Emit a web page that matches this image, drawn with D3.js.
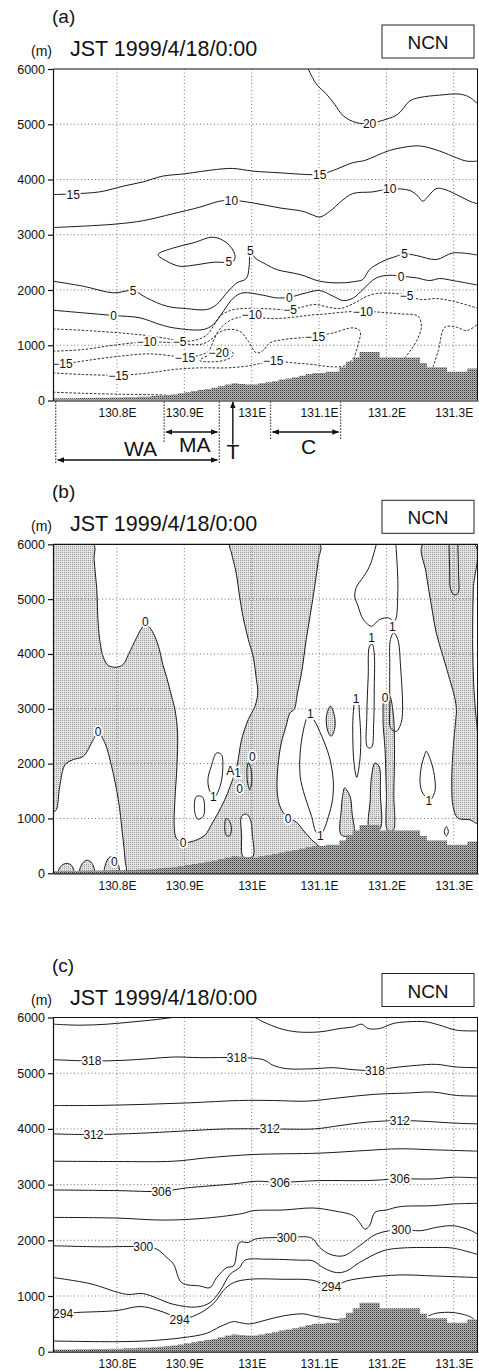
<!DOCTYPE html>
<html>
<head>
<meta charset="utf-8">
<script src="https://cdn.jsdelivr.net/npm/d3@7"></script>
<style>
body { margin: 0; background: #fff; }
svg text { font-family: "Liberation Sans", Arial, Helvetica, sans-serif; fill: #111; }
</style>
</head>
<body>
<script>
// axis values
var lonTicks = [130.8, 130.9, 131.0, 131.1, 131.2, 131.3];
var lonTickLabels = ["130.8E", "130.9E", "131E", "131.1E", "131.2E", "131.3E"];
var zTicks = [0, 1000, 2000, 3000, 4000, 5000, 6000];
var zGrid = [1000, 2000, 3000, 4000, 5000];
var panelNames = ["(a)", "(b)", "(c)"];
var timeLabel = "JST 1999/4/18/0:00";
var runName = "NCN";

// terrain height (m) per model column, [lon of column start, height]
var terrain = [[130.70,40],[130.71,40],[130.72,40],[130.73,40],[130.74,45],[130.75,45],[130.76,50],[130.77,50],
  [130.78,50],[130.79,55],[130.80,55],[130.81,60],[130.82,60],[130.83,70],[130.84,70],[130.85,80],
  [130.86,90],[130.87,100],[130.88,110],[130.89,130],[130.90,150],[130.91,170],[130.92,190],[130.93,210],
  [130.94,230],[130.95,260],[130.96,290],[130.97,310],[130.98,300],[130.99,290],[131.00,290],[131.01,310],
  [131.02,330],[131.03,350],[131.04,380],[131.05,400],[131.06,420],[131.07,450],[131.08,480],[131.09,500],
  [131.10,500],[131.11,520],[131.12,520],[131.13,600],[131.14,700],[131.15,780],[131.16,880],[131.17,880],
  [131.18,880],[131.19,780],[131.20,780],[131.21,780],[131.22,780],[131.23,780],[131.24,780],[131.25,680],
  [131.26,600],[131.27,600],[131.28,600],[131.29,520],[131.30,520],[131.31,520],[131.32,580],[131.33,580],[131.34,580]];

// ---- panel (a) contours ----
var a20 = [[131.084,6000],[131.096,5727],[131.111,5545],[131.123,5364],[131.136,5152],[131.155,5030],[131.175,5018],
  [131.200,5091],[131.217,5182],[131.235,5424],[131.250,5485],[131.279,5527],[131.309,5545],[131.324,5485],[131.336,5364]];
var a20Lab = [[131.175,5018]];
var a15 = [[130.705,3727],[130.774,3776],[130.809,3879],[130.839,3958],[130.868,4061],[130.900,4103],[130.948,4182],
  [130.972,4200],[131.002,4152],[131.042,4121],[131.081,4091],[131.101,4091],[131.121,4164],[131.150,4303],[131.168,4345],
  [131.205,4527],[131.240,4606],[131.254,4600],[131.279,4515],[131.304,4394],[131.319,4333],[131.336,4333]];
var a15Lab = [[130.735,3727],[131.101,4091]];
var a10 = [[130.705,3130],[130.764,3165],[130.800,3195],[130.839,3255],[130.883,3380],[130.923,3500],[130.952,3606],
  [130.970,3625],[131.002,3576],[131.042,3485],[131.076,3424],[131.090,3360],[131.101,3320],[131.116,3424],[131.133,3606],
  [131.150,3745],[131.180,3776],[131.205,3830],[131.235,3800],[131.247,3697],[131.254,3606],[131.262,3697],[131.274,3836],
  [131.287,3818],[131.309,3697],[131.324,3606],[131.336,3557]];
var a10Lab = [[130.970,3625],[131.205,3830]];
var a5Loop = [[130.861,2641],[130.884,2762],[130.913,2852],[130.943,2955],[130.963,2852],[130.975,2641],[130.973,2521],
  [130.943,2502],[130.913,2448],[130.893,2430],[130.874,2521]];
var a5LoopLab = [[130.966,2515]];
var a5 = [[130.705,2159],[130.750,2068],[130.795,1948],[130.824,1990],[130.844,1857],[130.874,1706],[130.903,1664],
  [130.933,1646],[130.948,1737],[130.963,1948],[130.978,2129],[130.992,2207],[130.996,2400],[130.997,2641],[130.998,2714],
  [131.005,2581],[131.022,2460],[131.037,2370],[131.072,2279],[131.101,2159],[131.131,2129],[131.156,2159],[131.165,2189],
  [131.175,2370],[131.195,2521],[131.215,2611],[131.227,2653],[131.245,2623],[131.274,2551],[131.299,2671],[131.337,2629]];
var a5Lab = [[130.824,1990],[130.998,2714],[131.227,2653]];
var a0 = [[130.705,1634],[130.750,1586],[130.795,1538],[130.834,1496],[130.864,1375],[130.884,1315],[130.928,1284],
  [130.943,1375],[130.958,1616],[130.973,1857],[130.987,1948],[131.017,1905],[131.037,1857],[131.056,1869],[131.081,1948],
  [131.101,1990],[131.121,1887],[131.136,1809],[131.151,1857],[131.165,2008],[131.185,2219],[131.205,2267],[131.222,2249],
  [131.245,2219],[131.264,2171],[131.279,2207],[131.299,2171],[131.337,2086]];
var a0Lab = [[130.795,1538],[131.056,1869],[131.222,2249]];
var aM5 = [[130.705,1296],[130.755,1266],[130.804,1224],[130.844,1176],[130.874,1122],[130.893,1073],[130.918,1097],
  [130.934,1194],[130.943,1345],[130.953,1526],[130.968,1628],[130.987,1664],[131.017,1664],[131.057,1646],[131.074,1688],
  [131.094,1737],[131.114,1688],[131.131,1664],[131.145,1720],[131.158,1800],[131.170,1880],[131.185,1935],[131.210,1940],
  [131.230,1905],[131.251,1827],[131.274,1845],[131.299,1797],[131.337,1664]];
var aM5Lab = [[130.893,1073],[131.057,1646],[131.230,1905]];
var aM10 = [[130.705,892],[130.750,923],[130.795,1001],[130.844,1061],[130.884,1043],[130.923,1013],[130.936,1073],
  [130.945,1164],[130.955,1327],[130.970,1463],[130.987,1520],[131.000,1556],[131.017,1495],[131.037,1483],[131.062,1508],
  [131.086,1544],[131.111,1568],[131.141,1604],[131.165,1616],[131.190,1598],[131.220,1568],[131.247,1526],[131.252,1345],
  [131.247,1134],[131.237,923],[131.227,772]];
var aM10Lab = [[130.844,1061],[131.000,1556],[131.165,1616]];
var aM10b = [[131.269,600],[131.277,900],[131.287,1327],[131.304,1327],[131.319,1266],[131.337,1390]];
var aM15a = [[130.705,663],[130.719,663],[130.755,724],[130.804,802],[130.849,844],[130.884,802],[130.901,772],
  [130.923,820],[130.936,892],[130.942,1043],[130.949,1206],[130.963,1284],[130.982,1254],[130.995,1073],[131.007,862],
  [131.017,905],[131.027,1043],[131.047,1103],[131.072,1134],[131.094,1164],[131.121,1224],[131.151,1315],[131.161,1254],
  [131.158,1013],[131.152,772]];
var aM15aLab = [[130.719,663],[130.901,772],[131.094,1164]];
var aM15b = [[130.705,500],[130.750,470],[130.802,458],[130.834,482],[130.859,519],[130.884,561],[130.923,591],
  [130.963,591],[130.992,621],[131.010,663],[131.032,712],[131.062,681],[131.091,651],[131.121,609],[131.141,640],[131.150,760]];
var aM15bLab = [[130.802,458],[131.032,712]];
var aM20 = [[130.923,724],[130.936,820],[130.953,892],[130.968,905],[130.973,832],[130.963,742],[130.943,700]];
var aM20Lab = [[130.951,870]];
var aM10c = [[130.705,150],[130.750,130],[130.800,115],[130.850,105],[130.872,100]];

// section marks under panel (a): [name, west lon, east lon]
var sections = [["WA",130.709,130.952],["MA",130.870,130.952],["C",131.028,131.132]];
var troughLon = 130.972;

// ---- panel (b): shaded areas (w < 0), holes, contour loops ----
var bShade1 = [[130.705,6000],[130.765,6000],[130.766,5720],[130.770,5174],[130.772,4567],[130.775,4203],[130.780,3930],
  [130.787,3790],[130.800,3760],[130.809,3808],[130.817,3990],[130.829,4294],[130.837,4476],[130.842,4537],[130.849,4476],
  [130.856,4324],[130.863,4081],[130.868,3808],[130.874,3565],[130.881,3231],[130.886,2988],[130.890,2561],[130.889,1951],
  [130.886,1341],[130.885,854],[130.888,640],[130.898,561],[130.916,598],[130.931,701],[130.940,884],[130.950,1098],
  [130.960,1341],[130.968,1585],[130.978,1951],[130.985,2439],[130.995,2805],[131.005,3049],[131.009,3300],[131.007,3535],
  [131.002,3960],[130.995,4264],[130.987,4689],[130.982,5053],[130.977,5478],[130.970,5842],[130.968,6000],[131.101,6000],
  [131.099,5720],[131.095,5356],[131.089,4871],[131.081,4264],[131.074,3656],[131.068,3292],[131.063,2988],[131.057,2927],
  [131.051,2683],[131.044,2378],[131.039,1951],[131.038,1463],[131.043,1189],[131.052,1037],[131.067,927],[131.076,793],
  [131.089,610],[131.099,488],[131.100,0],[130.705,0]];
var bShade2 = [[131.254,6000],[131.331,6000],[131.329,5174],[131.328,4264],[131.330,3353],[131.333,2866],[131.336,2439],
  [131.336,915],[131.324,976],[131.306,1006],[131.299,1220],[131.297,1646],[131.299,2256],[131.303,2805],[131.304,2988],
  [131.301,3231],[131.294,3535],[131.284,3960],[131.274,4385],[131.267,4871],[131.259,5478]];
var bShade3 = [[131.117,3049],[131.123,2866],[131.123,2622],[131.118,2500],[131.113,2591],[131.111,2866]];
var bShade4 = [[131.138,1555],[131.146,1402],[131.149,1098],[131.151,700],[131.133,700],[131.133,1159],[131.135,1402]];
var bShade5 = [[131.183,2012],[131.189,1951],[131.191,1463],[131.190,800],[131.175,800],[131.176,1341],[131.178,1768]];
var bShade6 = [[131.198,3250],[131.204,3250],[131.210,2927],[131.212,2256],[131.211,1463],[131.210,780],[131.202,780],
  [131.200,1463],[131.198,2256],[131.195,2805]];
var bBump1 = [[130.713,0],[130.716,120],[130.724,180],[130.732,150],[130.736,0]];
var bBump2 = [[130.745,0],[130.748,170],[130.756,240],[130.763,180],[130.766,0]];
var bBump3 = [[130.782,0],[130.784,200],[130.790,300],[130.798,260],[130.803,0]];
var bHole1 = [[130.705,1100],[130.710,1159],[130.715,1585],[130.723,1982],[130.735,2073],[130.750,2134],[130.765,2439],
  [130.772,2561],[130.782,2378],[130.792,1951],[130.802,1341],[130.808,732],[130.812,244],[130.812,0],[130.705,0]];
var bHole2 = [[130.985,1037],[130.992,1080],[130.998,980],[131.001,700],[131.002,305],[130.994,280],[130.987,305],[130.985,700]];
var bLoops = [
  [[130.918,1402],[130.927,1390],[130.930,1220],[130.928,1037],[130.920,988],[130.915,1159]],
  [[130.948,2195],[130.955,2165],[130.957,1890],[130.953,1585],[130.945,1402],[130.938,1494],[130.935,1707],[130.940,1951]],
  [[131.085,2896],[131.092,2805],[131.104,2500],[131.115,2134],[131.121,1707],[131.120,1341],[131.114,1037],[131.107,793],
   [131.101,701],[131.095,762],[131.089,1037],[131.079,1402],[131.072,1768],[131.072,2195],[131.076,2561],[131.081,2805]],
  [[131.172,2300],[131.171,2900],[131.173,3600],[131.175,4142],[131.179,4180],[131.182,4000],[131.182,3400],[131.181,2700],[131.178,2300]],
  [[131.205,2700],[131.205,3000],[131.205,3778],[131.206,4264],[131.211,4385],[131.217,4264],[131.221,3778],[131.224,2988],
   [131.222,2750],[131.215,2591],[131.208,2620]],
  [[131.151,2950],[131.153,3100],[131.158,3100],[131.160,2900],[131.162,2400],[131.160,2000],[131.156,1750],[131.152,2000],[131.150,2600]],
  [[131.259,2226],[131.267,2012],[131.272,1707],[131.272,1494],[131.265,1341],[131.254,1463],[131.250,1646],[131.252,1951],[131.257,2165]],
  [[131.289,850],[131.292,760],[131.289,680],[131.286,760]],
  [[130.962,1000],[130.967,950],[130.970,800],[130.967,680],[130.962,700],[130.960,850]],
  [[130.995,2012],[130.999,1900],[131.000,1650],[130.997,1525],[130.994,1650],[130.993,1900]]
];
var bOpen = [
  [[131.185,6000],[131.175,5599],[131.163,5356],[131.156,5235],[131.153,5053],[131.158,4871],[131.163,4689],[131.170,4567],
   [131.178,4506],[131.190,4628],[131.203,4659],[131.212,4598],[131.217,5174],[131.214,6000]],
  [[131.293,6000],[131.294,5500],[131.295,5200],[131.300,5080],[131.306,5100],[131.307,5500],[131.306,6000]]
];
var bLab0 = [[130.842,4580],[130.772,2580],[130.898,561],[130.796,213],[131.054,990],[131.198,3200],[130.982,1537],[131.001,2122]];
var bLab1 = [[130.943,1390],[130.979,1841],[131.087,2920],[131.102,690],[131.178,4290],[131.209,4494],[131.155,3180],[131.263,1330]];
var bLabA = [[130.968,1878]];

// ---- panel (c): potential temperature (K) ----
var c321 = [[130.706,5880],[130.745,5862],[130.785,5880],[130.824,5922],[130.859,5964],[130.889,6010],[130.940,6080],
  [131.002,6010],[131.017,5922],[131.042,5802],[131.067,5742],[131.101,5742],[131.131,5802],[131.151,5832],[131.163,5880],
  [131.173,5802],[131.190,5802],[131.210,5892],[131.230,5922],[131.259,5922],[131.279,5862],[131.304,5772],[131.336,5760]];
var c318 = [[130.706,5243],[130.762,5219],[130.809,5231],[130.849,5261],[130.884,5291],[130.923,5279],[130.978,5279],
  [131.017,5243],[131.032,5141],[131.052,5081],[131.093,5081],[131.121,5099],[131.151,5063],[131.183,5051],[131.210,5099],
  [131.245,5141],[131.274,5159],[131.304,5111],[131.336,5099]];
var c318Lab = [[130.762,5219],[130.978,5279],[131.183,5051]];
var c315 = [[130.706,4420],[130.760,4420],[130.834,4438],[130.908,4468],[130.982,4510],[131.032,4510],[131.081,4498],
  [131.131,4559],[131.180,4619],[131.230,4643],[131.269,4661],[131.304,4601],[131.336,4589]];
var c312 = [[130.706,3910],[130.765,3898],[130.834,3922],[130.893,3958],[130.963,4000],[131.027,4000],[131.093,4000],
  [131.131,4060],[131.170,4120],[131.220,4150],[131.254,4138],[131.304,4102],[131.336,4090]];
var c312Lab = [[130.765,3898],[131.027,4000],[131.220,4150]];
var c309 = [[130.706,3420],[130.800,3414],[130.884,3420],[130.933,3480],[131.002,3540],[131.101,3565],[131.170,3613],
  [131.220,3643],[131.269,3625],[131.337,3600]];
var c306 = [[130.706,2904],[130.800,2892],[130.866,2880],[130.903,2940],[130.973,3012],[131.007,3060],[131.042,3042],
  [131.101,3072],[131.170,3072],[131.220,3102],[131.269,3102],[131.299,3132],[131.337,3120]];
var c306Lab = [[130.866,2880],[131.042,3042],[131.220,3102]];
var c303 = [[130.706,2411],[130.800,2399],[130.869,2363],[130.933,2399],[130.987,2483],[131.002,2531],[131.047,2544],
  [131.091,2580],[131.121,2531],[131.151,2441],[131.160,2321],[131.168,2201],[131.175,2261],[131.183,2501],[131.200,2544],
  [131.220,2604],[131.269,2622],[131.299,2652],[131.337,2664]];
var c300 = [[130.706,1901],[130.775,1883],[130.839,1883],[130.859,1841],[130.874,1691],[130.884,1571],[130.896,1240],
  [130.923,1180],[130.938,1150],[130.948,1330],[130.963,1510],[130.973,1541],[130.982,1961],[130.995,1961],[131.005,2021],
  [131.052,2051],[131.089,2039],[131.101,1871],[131.116,1751],[131.136,1721],[131.160,1901],[131.185,2111],[131.222,2195],
  [131.250,2171],[131.274,2231],[131.299,2261],[131.324,2183],[131.337,2099]];
var c300Lab = [[130.839,1883],[131.052,2051],[131.222,2195]];
var c297 = [[130.706,1330],[130.760,1222],[130.814,1030],[130.839,1042],[130.884,850],[130.918,802],[130.938,880],
  [130.953,1090],[130.968,1390],[130.982,1510],[130.990,1643],[131.022,1661],[131.072,1643],[131.091,1631],[131.106,1510],
  [131.126,1420],[131.141,1450],[131.160,1601],[131.195,1811],[131.220,1859],[131.269,1871],[131.299,1859],[131.337,1739]];
var c294 = [[130.706,680],[130.720,679],[130.740,703],[130.800,739],[130.834,811],[130.859,751],[130.879,661],[130.893,583],
  [130.918,661],[130.938,811],[130.948,931],[130.958,1100],[130.973,1240],[130.997,1300],[131.047,1300],[131.091,1282],
  [131.118,1162],[131.141,1270],[131.170,1330],[131.220,1378],[131.269,1360],[131.337,1330]];
var c294Lab = [[130.720,679],[130.893,583],[131.118,1162]];
var c291w = [[130.706,192],[130.800,180],[130.849,198],[130.898,252],[130.933,330],[130.953,450],[130.973,541],[130.982,523],
  [130.997,499],[131.022,571],[131.047,643],[131.077,679],[131.091,643],[131.111,601],[131.131,571],[131.140,600]];
var c291e = [[131.262,640],[131.274,691],[131.299,703],[131.324,631],[131.330,580]];

// ---------------------------------------------------------------
var W = 479, H = 1370;
var x = d3.scaleLinear().domain([130.705, 131.336]).range([53, 478]);
var panelBox = [{top: 69, bottom: 400.5}, {top: 544.3, bottom: 873.3}, {top: 1017.5, bottom: 1351.7}];

var svg = d3.select("body").append("svg").attr("width", W).attr("height", H);
var defs = svg.append("defs");

// dithered grey fills
var pg = defs.append("pattern").attr("id", "ground").attr("width", 2).attr("height", 2).attr("patternUnits", "userSpaceOnUse");
pg.append("rect").attr("width", 2).attr("height", 2).attr("fill", "#b2b2b2");
pg.append("rect").attr("width", 1).attr("height", 1).attr("fill", "#3a3a3a");
pg.append("rect").attr("x", 1).attr("y", 1).attr("width", 1).attr("height", 1).attr("fill", "#8c8c8c");
var pl = defs.append("pattern").attr("id", "light").attr("width", 2).attr("height", 2).attr("patternUnits", "userSpaceOnUse");
pl.append("rect").attr("width", 2).attr("height", 2).attr("fill", "#e4e4e4");
pl.append("rect").attr("width", 1).attr("height", 1).attr("fill", "#9a9a9a");

var mk = defs.append("marker").attr("id", "ah").attr("viewBox", "0 0 10 10").attr("refX", 9).attr("refY", 5)
  .attr("markerWidth", 7).attr("markerHeight", 7).attr("orient", "auto-start-reverse").attr("markerUnits", "userSpaceOnUse");
mk.append("path").attr("d", "M0,1L10,5L0,9Z").attr("fill", "#111");

function makePanel(i) {
  var box = panelBox[i];
  var y = d3.scaleLinear().domain([0, 6000]).range([box.bottom, box.top]);
  var g = svg.append("g");
  var cid = "clip" + i;
  defs.append("clipPath").attr("id", cid).append("rect")
    .attr("x", x.range()[0]).attr("y", box.top)
    .attr("width", x.range()[1] - x.range()[0]).attr("height", box.bottom - box.top);
  var plot = g.append("g").attr("clip-path", "url(#" + cid + ")");

  // headings
  g.append("text").attr("x", 52).attr("y", box.top - 46).attr("font-size", 19).text(panelNames[i]);
  g.append("text").attr("x", 31).attr("y", box.top - 13).attr("font-size", 14).text("(m)");
  g.append("text").attr("x", 70).attr("y", box.top - 13).attr("font-size", 21.5).text(timeLabel);
  g.append("rect").attr("x", 382).attr("y", box.top - 44).attr("width", 92).attr("height", 33)
    .attr("fill", "none").attr("stroke", "#222").attr("stroke-width", 1);
  g.append("text").attr("x", 428).attr("y", box.top - 20).attr("font-size", 19)
    .attr("text-anchor", "middle").text(runName);

  return {g: g, plot: plot, y: y, box: box};
}

function lineGen(y, closed) {
  return d3.line().x(function (d) { return x(d[0]); }).y(function (d) { return y(d[1]); })
    .curve(closed ? d3.curveCatmullRomClosed.alpha(0.5) : d3.curveCatmullRom.alpha(0.5));
}

function drawGrid(p) {
  p.plot.selectAll(".gx").data(lonTicks).enter().append("line")
    .attr("x1", function (d) { return x(d); }).attr("x2", function (d) { return x(d); })
    .attr("y1", p.box.top).attr("y2", p.box.bottom)
    .attr("stroke", "#555").attr("stroke-width", 0.8).attr("stroke-dasharray", "1,2.5");
  p.plot.selectAll(".gy").data(zGrid).enter().append("line")
    .attr("x1", x.range()[0]).attr("x2", x.range()[1])
    .attr("y1", function (d) { return p.y(d); }).attr("y2", function (d) { return p.y(d); })
    .attr("stroke", "#555").attr("stroke-width", 0.8).attr("stroke-dasharray", "1,2.5");
}

function drawLines(p, list) {
  list.forEach(function (c) {
    p.plot.append("path").attr("d", lineGen(p.y, c.closed)(c.pts))
      .attr("fill", "none").attr("stroke", "#1a1a1a").attr("stroke-width", c.dash ? 0.9 : 1)
      .attr("stroke-dasharray", c.dash ? "2.5,1.6" : null);
  });
}

function drawLabels(p, labels, txt) {
  p.plot.selectAll(null).data(labels).enter().append("text")
    .attr("x", function (d) { return x(d[0]); }).attr("y", function (d) { return p.y(d[1]); })
    .attr("dy", "0.36em").attr("text-anchor", "middle").attr("font-size", 12)
    .attr("stroke", "#fff").attr("stroke-width", 3.5).attr("paint-order", "stroke")
    .text(txt);
}

function drawTerrain(p) {
  var area = d3.area().curve(d3.curveStepAfter)
    .x(function (d) { return x(d[0]); }).y0(p.y(0)).y1(function (d) { return p.y(d[1]); });
  p.plot.append("path").attr("d", area(terrain)).attr("fill", "url(#ground)");
}

function drawAxes(p) {
  var yAxis = d3.axisLeft(p.y).tickValues(zTicks).tickFormat(d3.format("d")).tickSize(5).tickSizeOuter(0).tickPadding(3);
  var ga = p.g.append("g").attr("transform", "translate(" + x.range()[0] + ",0)").call(yAxis);
  ga.selectAll("text").attr("font-size", 12.5).attr("fill", "#111");
  ga.selectAll("line,path").attr("stroke", "#111").attr("stroke-width", 1.2);
  var xAxis = d3.axisBottom(x).tickValues(lonTicks).tickFormat(function (d, i) { return lonTickLabels[i]; })
    .tickSize(0).tickSizeOuter(0).tickPadding(8);
  var gb = p.g.append("g").attr("transform", "translate(0," + p.box.bottom + ")").call(xAxis);
  gb.selectAll("text").attr("font-size", 12).attr("fill", "#111");
  gb.select("path").attr("stroke", "#111").attr("stroke-width", 1.2);
  p.g.append("line").attr("x1", x.range()[0]).attr("x2", x.range()[1]).attr("y1", p.box.top).attr("y2", p.box.top)
    .attr("stroke", "#111").attr("stroke-width", 1.2);
  p.g.append("line").attr("x1", x.range()[1] - 0.5).attr("x2", x.range()[1] - 0.5).attr("y1", p.box.top).attr("y2", p.box.bottom)
    .attr("stroke", "#111").attr("stroke-width", 1);
}

// ---------- panel (a) ----------
var pa = makePanel(0);
drawGrid(pa);
var aSolid = [{pts: a20}, {pts: a15}, {pts: a10}, {pts: a5Loop, closed: true}, {pts: a5}, {pts: a0}];
var aDash = [aM5, aM10, aM10b, aM15a, aM15b, aM10c].map(function (d) { return {pts: d, dash: true}; });
aDash.push({pts: aM20, dash: true, closed: true});
drawLines(pa, aSolid.concat(aDash));
drawTerrain(pa);
drawLabels(pa, a20Lab, "20");
drawLabels(pa, a15Lab, "15");
drawLabels(pa, a10Lab, "10");
drawLabels(pa, a5LoopLab, "5");
drawLabels(pa, a5Lab, "5");
drawLabels(pa, a0Lab, "0");
drawLabels(pa, aM5Lab, "\u22125");
drawLabels(pa, aM10Lab, "\u221210");
drawLabels(pa, aM15aLab, "\u221215");
drawLabels(pa, aM15bLab, "\u221215");
drawLabels(pa, aM20Lab, "\u221220");
drawAxes(pa);

// section marks below (a)
var yb = pa.box.bottom;
var guideDepth = {"130.709": 63, "130.87": 42, "130.952": 63, "131.028": 40, "131.132": 40};
var guides = [];
sections.forEach(function (s) { guides.push(s[1], s[2]); });
guides = Array.from(new Set(guides));
pa.g.selectAll(".guide").data(guides).enter().append("line")
  .attr("x1", function (d) { return x(d); }).attr("x2", function (d) { return x(d); })
  .attr("y1", yb + 1).attr("y2", function (d) { return yb + (guideDepth[String(d)] || 40); })
  .attr("stroke", "#222").attr("stroke-width", 1.3).attr("stroke-dasharray", "1.2,1.8");
var rowY = {WA: 59.5, MA: 31.5, C: 31.5};
var textY = {WA: 55, MA: 51, C: 53};
sections.forEach(function (s) {
  pa.g.append("line").attr("x1", x(s[1]) + 2).attr("x2", x(s[2]) - 2)
    .attr("y1", yb + rowY[s[0]]).attr("y2", yb + rowY[s[0]])
    .attr("stroke", "#111").attr("stroke-width", 1.4)
    .attr("marker-start", "url(#ah)").attr("marker-end", "url(#ah)");
  pa.g.append("text").attr("x", (x(s[1]) + x(s[2])) / 2 + 3).attr("y", yb + textY[s[0]])
    .attr("text-anchor", "middle").attr("font-size", 21).text(s[0]);
});
pa.g.append("line").attr("x1", x(troughLon)).attr("x2", x(troughLon)).attr("y1", yb + 44).attr("y2", yb + 1.5)
  .attr("stroke", "#111").attr("stroke-width", 1.4).attr("marker-end", "url(#ah)");
pa.g.append("text").attr("x", x(troughLon)).attr("y", yb + 58).attr("text-anchor", "middle").attr("font-size", 21).text("T");

// ---------- panel (b) ----------
var pb = makePanel(1);
var polyGen = function (closed) { return lineGen(pb.y, true); };
[bShade1, bShade2, bShade3, bShade4, bShade5, bShade6, bBump1, bBump2, bBump3].forEach(function (s, k) {
  pb.plot.append("path").attr("d", (k < 2 ? d3.line().x(function (d) { return x(d[0]); }).y(function (d) { return pb.y(d[1]); })
      .curve(d3.curveCatmullRomClosed.alpha(0.5)) : polyGen(true))(s))
    .attr("fill", "url(#light)").attr("stroke", "#1a1a1a").attr("stroke-width", 1);
});
[bHole1, bHole2].forEach(function (s) {
  pb.plot.append("path").attr("d", polyGen(true)(s)).attr("fill", "#fff").attr("stroke", "#1a1a1a").attr("stroke-width", 1);
});
[bBump1, bBump2, bBump3].forEach(function (s) {
  pb.plot.append("path").attr("d", polyGen(true)(s)).attr("fill", "url(#light)").attr("stroke", "#1a1a1a").attr("stroke-width", 1);
});
drawGrid(pb);
drawLines(pb, bLoops.map(function (d) { return {pts: d, closed: true}; }).concat(bOpen.map(function (d) { return {pts: d}; })));
drawTerrain(pb);
drawLabels(pb, bLab0, "0");
drawLabels(pb, bLab1, "1");
drawLabels(pb, bLabA, "A");
drawAxes(pb);

// ---------- panel (c) ----------
var pc = makePanel(2);
drawGrid(pc);
drawLines(pc, [c321, c318, c315, c312, c309, c306, c303, c300, c297, c294, c291w, c291e].map(function (d) { return {pts: d}; }));
drawTerrain(pc);
drawLabels(pc, c318Lab, "318");
drawLabels(pc, c312Lab, "312");
drawLabels(pc, c306Lab, "306");
drawLabels(pc, c300Lab, "300");
drawLabels(pc, c294Lab, "294");
drawAxes(pc);
</script>
</body>
</html>
